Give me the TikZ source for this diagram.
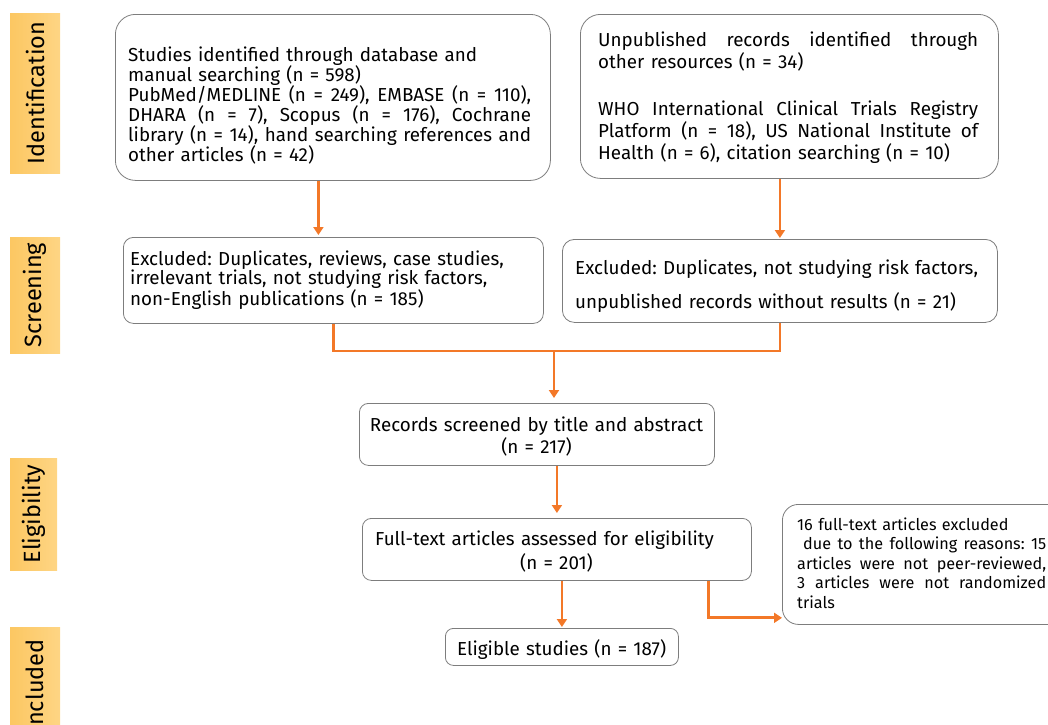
\documentclass[tikz,border=0pt]{standalone}
\usepackage{fontspec}
\setmainfont{Fira Sans}
\usetikzlibrary{arrows.meta}
\definecolor{arrorange}{RGB}{243,120,40}
\definecolor{boxgray}{RGB}{125,125,125}
\definecolor{labA}{RGB}{252,199,98}
\definecolor{labB}{RGB}{254,213,132}
\newcommand{\jline}[2]{\leavevmode\hbox to #1{\spaceskip=\fontdimen2\font plus 1fil\relax\xspaceskip=\spaceskip #2}}
\begin{document}
\frenchspacing
\begin{tikzpicture}[x=1pt,y=-1pt,
  box/.style={draw=boxgray, line width=0.8pt, fill=white, inner sep=0pt, anchor=north west},
  txt/.style={inner sep=0pt, anchor=base west, align=left, font=\fontsize{18.8}{20}\selectfont},
  arr/.style={draw=arrorange, line width=2.8pt, -{Triangle[width=10pt,length=8pt]}},
  ln/.style={draw=arrorange, line width=2.8pt},
  lab/.style={rotate=90, inner sep=0pt, left color=labA, right color=labB,
              font=\fontsize{23.5}{26}\selectfont, text=black}]
\useasboundingbox (0,0) rectangle (1048,724);

% phase labels
\node[lab, minimum width=160pt, minimum height=50pt] (L1) at (35,93) {Identification};
\node[lab, minimum width=116pt, minimum height=50pt] (L2) at (35,295) {Screening};
\node[lab, minimum width=112pt, minimum height=47pt] (L3) at (33.5,514) {Eligibility};
\node[lab, minimum width=117pt, minimum height=50pt] (L4) at (35,686) {Included};

% boxes
\node[box, rounded corners=20pt, minimum width=435pt, minimum height=166pt] (b1) at (115,14) {};
\node[box, rounded corners=20pt, minimum width=418pt, minimum height=164pt] (b2) at (580,14) {};
\node[box, rounded corners=10pt, minimum width=420pt, minimum height=86pt] (b3) at (123,237) {};
\node[box, rounded corners=12pt, minimum width=435pt, minimum height=83pt] (b4) at (562,239) {};
\node[box, rounded corners=9pt, minimum width=355pt, minimum height=62pt] (b5) at (359,403) {};
\node[box, rounded corners=9pt, minimum width=389pt, minimum height=62pt] (b6) at (362,518) {};
\node[box, rounded corners=8pt, minimum width=233pt, minimum height=37pt] (b7) at (445,628) {};
\node[box, rounded corners=16pt, minimum width=290pt, minimum height=120pt] (b8) at (782,504) {};

% texts
\node[txt, text width=403pt] (t1) at (128,61) {%
Studies identified through database and\\
manual searching (n = 598)\\
\jline{403pt}{PubMed/MEDLINE (n = 249), EMBASE (n = 110),}\\
\jline{403pt}{DHARA (n = 7), Scopus (n = 176), Cochrane}\\
\jline{403pt}{library (n = 14), hand searching references and}\\
other articles (n = 42)};

\node[txt, text width=380pt, font=\fontsize{18.8}{22}\selectfont] (t2) at (598,46) {%
\jline{380pt}{Unpublished records identified through}\\
other resources (n = 34)\\[25pt]
\jline{380pt}{WHO International Clinical Trials Registry}\\
\jline{380pt}{Platform (n = 18), US National Institute of}\\
Health (n = 6), citation searching (n = 10)};

\node[txt, text width=400pt, font=\fontsize{18.8}{19.5}\selectfont] (t3) at (130,265) {%
Excluded: Duplicates, reviews, case studies,\\
irrelevant trials, not studying risk factors,\\
non-English publications (n = 185)};

\node[txt, text width=415pt, font=\fontsize{18.8}{34}\selectfont] (t4) at (575,274) {%
Excluded: Duplicates, not studying risk factors,\\
unpublished records without results (n = 21)};

\node[txt, anchor=base, align=center, text width=350pt, font=\fontsize{18.8}{22}\selectfont] (t5) at (536.5,431) {%
Records screened by title and abstract\\
(n = 217)};

\node[txt, text width=375pt, font=\fontsize{18.8}{24}\selectfont] (t6) at (375,545) {%
Full-text articles assessed for eligibility\\
\hspace*{145pt}(n = 201)};

\node[txt, text width=230pt] (t7) at (457,655) {Eligible studies (n = 187)};

\node[txt, text width=249pt, font=\fontsize{16.2}{19.5}\selectfont] (t8) at (797,530) {%
16 full-text articles excluded\\
\hspace*{6pt}\jline{243pt}{due to the following reasons: 15}\\
\jline{249pt}{articles were not peer-reviewed,}\\
\jline{249pt}{3 articles were not randomized}\\
trials};

% connectors
\draw[arr, shorten >=2pt] ([xshift=-14.5pt]b1.south) -- ([xshift=-14.5pt]b1.south |- b3.north);
\draw[arr, shorten >=1pt] (b2.south -| b4.north) -- (b4.north);
\coordinate (j) at (554,351);
\draw[ln] (b3.south) |- (j);
\draw[ln] (b4.south) |- (j);
\draw[arr, shorten >=5pt] (j) -- (j |- b5.north);
\draw[arr, shorten >=5pt] (b5.south -| b6.north) -- (b6.north);
\draw[arr, shorten >=1pt] (b6.south -| b7.north) -- (b7.north);
\draw[arr] ([xshift=-43pt]b6.south east) |- ([yshift=7pt]b8.south west);
\end{tikzpicture}
\end{document}
